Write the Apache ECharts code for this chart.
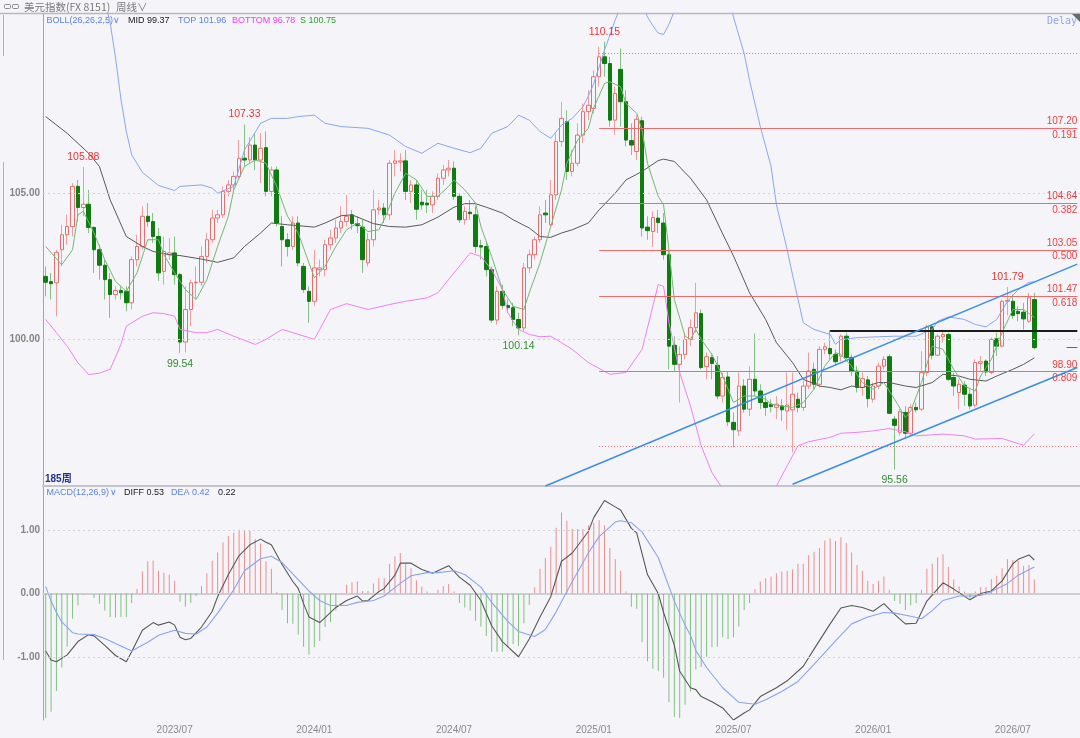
<!DOCTYPE html>
<html><head><meta charset="utf-8">
<script src="https://cdn.jsdelivr.net/npm/echarts@6/dist/echarts.min.js"></script>
<style>html,body{margin:0;padding:0;background:#f5f5f9;} #c{width:1080px;height:738px;}</style>
</head><body><div id="c"></div>
<script>
// ---------------- data ----------------
const startDate = '2023-01-20';   // first weekly candle
const padWeeks = 8;               // empty weeks right of the last candle

const opens = [
102.15,101.97,101.93,103.06,103.57,103.85,105.22,104.50,104.61,103.82,
103.06,102.53,102.04,101.53,101.67,101.64,101.25,102.72,103.17,104.20,
104.02,103.51,102.32,102.89,102.95,102.21,99.91,101.02,101.93,101.95,
102.83,103.40,104.14,104.25,105.05,105.27,105.56,106.18,106.12,106.63,
106.12,106.54,105.05,105.78,103.85,103.40,103.17,103.97,102.49,101.64,
101.30,102.38,102.38,103.23,103.46,103.80,104.02,104.25,103.95,103.83,
102.61,103.40,104.42,104.48,104.25,106.01,106.05,106.09,105.05,105.27,
104.68,104.65,104.59,104.88,105.50,105.78,105.84,104.88,104.08,104.34,
104.25,103.20,103.17,102.38,100.66,101.64,101.16,101.08,100.68,100.39,
102.44,102.89,103.40,104.31,103.91,104.93,106.75,107.43,105.73,106.01,
106.97,107.77,107.88,108.96,109.64,109.41,107.48,109.21,108.11,106.78,
106.41,107.46,103.83,103.68,104.14,103.97,102.89,99.80,99.15,99.49,
100.00,100.40,100.88,99.07,99.38,99.12,98.07,98.72,97.17,96.88,
98.41,97.62,98.64,98.24,97.85,97.79,97.68,97.73,97.56,97.60,
97.96,97.68,98.41,98.98,98.47,99.66,99.69,99.49,99.43,100.11,
99.38,98.92,98.36,98.62,97.96,98.41,99.09,99.41,97.28,96.83,
97.51,96.80,97.68,97.62,98.87,100.43,99.46,100.09,100.17,98.70,
98.19,98.44,98.13,97.76,99.18,99.26,98.87,100.02,99.77,101.30,
101.30,100.96,100.93,100.62,101.36];
const closes = [
101.95,101.90,102.97,103.57,103.85,105.22,104.50,104.61,103.82,103.06,
102.53,102.04,101.53,101.67,101.59,101.25,102.72,103.17,104.20,104.02,
103.51,102.27,103.00,102.95,102.21,99.91,101.02,101.93,101.95,102.83,
103.40,104.14,104.25,105.05,105.27,105.56,106.18,106.12,106.63,106.12,
106.52,105.05,105.78,103.97,103.40,103.17,103.97,102.61,101.70,101.30,
102.44,102.44,103.23,103.46,103.80,104.02,104.20,103.95,103.88,102.72,
103.40,104.42,104.48,104.25,106.01,106.09,106.09,105.05,105.27,104.44,
104.59,104.59,104.88,105.50,105.78,105.84,104.88,104.08,104.37,104.29,
103.17,103.15,102.38,100.66,101.64,101.16,101.08,100.68,100.39,102.44,
102.89,103.40,104.25,104.25,104.93,106.75,107.54,105.73,106.01,106.97,
107.77,107.99,108.96,109.64,109.41,107.48,108.39,108.11,106.80,106.63,
107.51,103.80,103.71,104.16,103.99,102.89,99.77,99.15,99.49,100.00,
100.40,100.91,99.04,99.41,99.18,98.07,98.70,97.19,96.92,98.41,
97.62,98.64,98.24,97.85,97.68,97.71,97.79,97.60,97.76,98.13,
97.68,98.41,98.92,98.47,99.66,99.75,99.51,99.24,100.11,99.38,
98.92,98.36,98.66,97.98,98.41,99.09,99.32,97.48,97.07,97.53,
96.80,97.68,97.60,98.87,100.43,99.46,100.11,100.17,98.64,98.41,
98.47,98.13,97.73,99.21,99.24,98.89,100.00,99.77,101.30,101.33,
100.82,100.88,100.70,101.42,99.72];
const highs = [
102.49,102.27,103.06,103.91,104.25,105.33,105.44,105.88,105.10,103.85,
103.23,102.72,102.27,101.81,101.81,101.81,102.83,103.57,104.54,104.65,
104.31,103.80,103.51,103.46,103.51,102.27,101.81,102.04,102.49,103.17,
103.63,104.42,104.42,105.22,105.44,105.73,106.80,107.33,106.90,107.03,
107.03,107.09,105.90,105.90,104.20,103.63,104.20,104.20,102.61,101.81,
103.06,102.72,103.40,103.74,104.08,104.54,104.93,104.42,104.20,104.08,
103.63,105.10,104.76,104.65,106.12,106.46,106.35,106.46,105.44,105.44,
105.10,105.10,105.05,105.67,105.95,106.12,106.07,104.99,104.54,104.76,
104.54,103.40,103.29,102.49,101.81,101.87,101.36,101.25,100.91,102.61,
103.06,103.51,104.54,104.76,105.44,107.03,108.10,107.82,106.46,107.37,
108.05,108.50,109.18,109.98,110.15,109.64,108.62,109.92,108.50,107.37,
107.65,107.60,104.20,104.37,104.42,104.31,103.06,100.11,99.77,100.23,
100.68,101.93,101.02,99.55,99.49,99.43,98.87,98.92,97.51,98.87,
98.64,99.09,100.20,98.47,98.07,97.96,98.07,97.96,98.87,98.87,
98.19,98.60,99.55,99.21,99.77,99.89,100.32,99.66,100.17,100.23,
99.49,99.09,98.87,98.75,98.53,99.21,99.43,99.49,97.39,97.62,
97.73,97.79,97.85,99.60,100.51,100.51,100.17,100.34,100.23,98.87,
98.64,98.58,98.30,99.32,99.43,99.32,100.06,100.23,101.36,101.79,
101.53,101.13,101.25,101.59,101.59];
const lows = [
101.47,101.36,100.79,102.49,103.23,103.51,104.02,104.20,103.63,102.27,
102.04,101.36,100.74,101.36,101.36,100.96,101.02,102.49,103.06,103.85,
103.29,102.00,101.87,102.72,101.87,99.54,99.55,100.45,101.36,101.81,
102.61,103.29,103.97,104.14,104.88,105.10,105.44,105.90,106.01,105.78,
105.33,104.88,104.88,103.85,102.49,102.83,103.06,102.49,101.59,100.57,
101.13,102.15,102.15,103.06,103.29,103.63,103.85,103.74,103.63,102.27,
102.49,103.17,104.25,103.97,104.08,105.56,105.73,104.76,104.65,104.08,
104.42,104.31,104.31,104.76,105.27,105.56,104.76,103.97,103.91,104.08,
102.95,102.72,102.15,100.57,100.51,101.02,100.91,100.45,100.14,100.28,
102.27,102.72,103.29,103.97,103.85,104.76,106.58,105.44,105.56,105.90,
106.69,107.48,107.71,108.62,108.96,107.26,106.97,107.26,106.58,106.29,
106.12,103.51,103.40,103.15,103.63,102.72,98.98,98.92,97.85,99.32,
99.77,100.23,98.98,98.64,98.64,97.96,97.85,97.05,96.32,96.71,
97.51,97.39,98.07,97.62,97.39,97.51,97.28,97.22,96.92,96.15,
97.51,97.56,98.30,98.30,98.36,99.49,99.32,99.09,99.26,99.32,
98.75,98.19,98.07,97.68,97.85,98.30,98.98,97.45,95.56,96.71,
96.60,96.71,97.51,97.56,98.75,99.32,99.43,99.89,98.58,98.07,
97.62,97.73,97.62,97.68,98.92,98.75,98.81,99.43,99.72,100.82,
100.70,100.62,100.34,100.57,99.66];

// BOLL lines and the short average S, read as [candle index, value]
const bollMid = [[0,107.60],[4,107.03],[8,106.35],[10,105.90],[12,104.76],[15,103.51],[18,103.17],[20,103.00],[23,102.89],[25,102.86],[29,102.74],[32,102.63],[35,102.78],[37,103.17],[40,103.63],[42,103.97],[45,103.91],[47,103.88],[50,103.83],[52,103.97],[55,104.22],[57,104.25],[61,103.95],[64,103.85],[67,103.83],[70,103.91],[73,104.17],[76,104.51],[78,104.63],[80,104.63],[82,104.51],[85,104.31],[87,104.08],[90,103.80],[92,103.51],[94,103.48],[96,103.63],[98,103.74],[101,103.97],[103,104.42],[106,104.99],[108,105.44],[111,105.73],[114,106.10],[115,106.15],[117,106.07],[120,105.50],[123,104.76],[126,103.60],[128,102.85],[131,101.59],[134,100.68],[136,99.89],[139,99.21],[141,98.64],[144,98.41],[146,98.36],[148,98.28],[150,98.41],[152,98.36],[155,98.53],[157,98.53],[160,98.41],[162,98.36],[165,98.53],[167,98.81],[170,98.75],[172,98.64],[175,98.58],[177,98.75],[180,98.98],[182,99.15],[184,99.37]];
const bollTop = [[0,115.0],[6,113.8],[10,112.3],[12,110.8],[13,109.6],[14,108.2],[15,107.1],[16,106.3],[18,105.70],[21,105.25],[24,105.08],[25,105.22],[29,105.27],[31,105.16],[32,104.99],[35,105.22],[37,106.46],[40,107.37],[42,107.54],[45,107.54],[47,107.60],[50,107.65],[52,107.37],[55,107.26],[60,107.20],[64,106.97],[67,106.58],[70,106.35],[73,106.69],[76,106.52],[79,106.37],[81,106.52],[83,107.03],[86,107.26],[88,107.65],[90,107.48],[92,107.09],[94,106.86],[96,107.31],[98,107.54],[100,107.94],[101,108.30],[102,108.73],[104,109.86],[106,110.90],[108,111.80],[110,111.90],[112,111.00],[113,110.70],[114,110.45],[115,110.40],[116,110.75],[117,111.20],[120,112.50],[124,112.80],[127,111.80],[128,111.00],[130,109.75],[131,108.84],[133,107.26],[135,105.90],[136,104.60],[138,103.06],[139,102.20],[141,100.57],[143,100.34],[146,100.17],[147,99.83],[148,100.00],[151,100.06],[155,100.09],[158,100.11],[162,100.11],[165,100.34],[166,100.62],[168,100.77],[171,100.68],[173,100.51],[175,100.43],[177,100.68],[179,101.30],[181,101.70],[183,101.95],[184,101.96]];
const bollBottom = [[0,100.68],[2,100.23],[4,99.77],[6,99.20],[8,98.80],[10,98.85],[12,98.98],[13,99.40],[14,99.83],[15,100.45],[18,100.79],[20,100.91],[22,100.88],[24,100.79],[25,100.34],[28,100.23],[30,100.23],[32,100.34],[35,100.11],[39,99.83],[41,100.00],[44,100.34],[46,100.23],[49,100.06],[50,100.00],[51,100.34],[53,101.02],[56,101.22],[60,101.02],[64,101.19],[67,101.30],[71,101.42],[73,101.59],[76,102.27],[79,102.95],[81,102.83],[83,102.38],[85,101.70],[86,100.91],[88,100.34],[90,100.17],[92,100.09],[94,100.11],[96,99.89],[98,99.66],[101,99.21],[105,98.81],[108,98.87],[111,99.66],[113,101.13],[114,101.87],[115,101.81],[116,100.57],[118,98.87],[120,97.73],[122,96.37],[124,95.46],[126,94.90],[129,94.40],[132,94.30],[135,94.80],[136,95.00],[138,95.69],[140,96.37],[142,96.51],[146,96.66],[148,96.80],[151,96.83],[154,96.88],[157,96.96],[160,96.85],[162,96.71],[167,96.77],[171,96.71],[173,96.60],[178,96.62],[182,96.39],[184,96.78]];
const sLine = [[0,103.17],[3,102.55],[5,103.06],[6,104.25],[7,104.37],[9,103.63],[11,102.72],[13,101.98],[15,101.64],[17,102.27],[19,103.40],[21,103.40],[22,102.89],[24,102.27],[26,101.70],[28,101.36],[30,102.04],[32,103.17],[34,104.20],[35,105.10],[37,105.90],[39,106.12],[41,106.01],[43,105.22],[45,104.20],[47,103.63],[49,102.61],[50,102.10],[52,102.49],[54,103.17],[56,103.74],[58,103.97],[60,103.68],[62,103.74],[63,104.08],[65,104.99],[67,105.67],[69,105.44],[71,104.88],[73,104.88],[75,105.22],[76,105.44],[78,105.10],[80,104.65],[81,103.85],[83,102.83],[85,101.70],[87,101.13],[89,101.02],[90,101.59],[92,102.61],[94,103.85],[96,105.10],[97,106.01],[99,106.80],[101,107.20],[102,107.90],[104,108.73],[105,108.79],[107,108.62],[108,108.05],[110,107.71],[111,107.14],[112,106.01],[114,104.88],[115,104.59],[116,103.06],[117,101.36],[119,100.11],[120,100.00],[121,100.34],[122,100.00],[124,99.49],[126,98.75],[128,97.85],[130,98.07],[132,98.07],[134,97.96],[135,97.79],[137,97.73],[139,97.68],[141,97.85],[143,98.30],[145,99.09],[147,99.55],[148,99.49],[150,99.09],[152,98.53],[154,98.30],[156,98.53],[158,97.96],[160,97.34],[161,97.56],[163,98.53],[165,99.77],[167,99.66],[169,98.98],[171,98.41],[173,98.24],[174,98.75],[176,99.32],[178,100.23],[180,101.02],[182,101.02],[184,100.75]];

// MACD(12,26,9)
const macdHist = [
-1.97,-1.87,-1.54,-1.17,-0.84,-0.40,-0.19,-0.02,0.00,-0.07,
-0.16,-0.27,-0.37,-0.38,-0.37,-0.37,-0.15,0.07,0.35,0.51,
0.52,0.36,0.33,0.30,0.20,-0.13,-0.21,-0.15,-0.04,0.12,
0.32,0.52,0.65,0.81,0.91,0.96,1.01,1.00,0.99,0.86,
0.79,0.51,0.39,0.02,-0.26,-0.47,-0.48,-0.65,-0.84,-0.97,
-0.85,-0.75,-0.53,-0.45,-0.27,0.01,0.14,0.18,0.19,0.04,
0.04,0.16,0.24,0.24,0.47,0.59,0.64,0.47,0.40,0.21,
0.11,0.03,0.01,0.06,0.12,0.15,0.03,-0.15,-0.22,-0.27,
-0.43,-0.52,-0.67,-0.92,-0.92,-0.92,-0.85,-0.80,-0.83,-0.47,
-0.18,0.10,0.39,0.56,0.74,1.04,1.28,1.15,1.02,1.02,
1.02,1.08,1.12,1.16,1.08,0.72,0.54,0.36,0.03,-0.21,
-0.24,-0.77,-1.07,-1.19,-1.22,-1.33,-1.72,-1.95,-1.97,-1.76,
-1.55,-1.20,-1.16,-1.00,-0.85,-0.84,-0.69,-0.72,-0.69,-0.52,
-0.26,-0.15,0.07,0.19,0.24,0.27,0.32,0.35,0.36,0.38,
0.47,0.47,0.61,0.66,0.72,0.84,0.87,0.83,0.89,0.80,
0.65,0.45,0.36,0.20,0.15,0.20,0.27,0.06,-0.12,-0.16,
-0.26,-0.19,-0.15,0.06,0.39,0.47,0.57,0.62,0.42,0.22,
0.11,0.03,-0.08,0.03,0.10,0.10,0.23,0.28,0.40,0.54,
0.53,0.52,0.44,0.45,0.22];
const diffPts = [[0,-0.91],[1,-1.05],[2,-1.08],[4,-0.97],[6,-0.76],[8,-0.65],[9,-0.67],[11,-0.82],[13,-0.98],[15,-1.08],[16,-0.92],[18,-0.58],[20,-0.46],[21,-0.50],[23,-0.45],[24,-0.50],[25,-0.69],[26,-0.73],[27,-0.71],[29,-0.53],[31,-0.28],[32,-0.05],[34,0.30],[36,0.60],[38,0.77],[40,0.86],[41,0.81],[42,0.77],[44,0.46],[46,0.19],[47,0.08],[48,-0.16],[49,-0.37],[51,-0.46],[52,-0.38],[54,-0.22],[56,-0.11],[58,-0.04],[59,-0.12],[60,-0.11],[62,0.03],[63,0.08],[65,0.29],[66,0.48],[68,0.48],[70,0.38],[72,0.32],[75,0.44],[77,0.26],[79,0.13],[81,-0.11],[83,-0.51],[85,-0.76],[88,-1.00],[90,-0.72],[92,-0.37],[94,-0.05],[96,0.51],[98,0.64],[101,0.98],[102,1.20],[104,1.47],[106,1.37],[107,1.32],[109,1.03],[110,0.96],[112,0.30],[114,0.00],[115,-0.30],[117,-0.82],[118,-1.23],[120,-1.49],[121,-1.52],[122,-1.63],[124,-1.71],[126,-1.81],[128,-2.00],[130,-1.89],[131,-1.84],[133,-1.63],[136,-1.49],[138,-1.38],[141,-1.15],[143,-0.88],[146,-0.48],[148,-0.23],[150,-0.19],[152,-0.22],[154,-0.28],[156,-0.16],[158,-0.33],[160,-0.48],[162,-0.47],[164,-0.12],[167,0.17],[169,0.07],[172,-0.10],[174,0.00],[176,0.04],[177,0.12],[178,0.20],[180,0.47],[181,0.54],[183,0.61],[184,0.53]];
const deaPts = [[0,0.11],[1,-0.12],[2,-0.30],[3,-0.45],[5,-0.62],[6,-0.64],[9,-0.65],[11,-0.71],[14,-0.83],[16,-0.91],[19,-0.77],[21,-0.66],[24,-0.58],[26,-0.63],[28,-0.64],[30,-0.53],[32,-0.31],[35,0.06],[37,0.36],[40,0.55],[42,0.59],[44,0.49],[47,0.22],[49,0.04],[51,-0.11],[53,-0.19],[56,-0.19],[58,-0.14],[61,-0.11],[63,-0.04],[66,0.16],[68,0.28],[71,0.33],[73,0.33],[76,0.36],[78,0.30],[81,0.10],[83,-0.14],[86,-0.44],[88,-0.60],[91,-0.68],[93,-0.57],[95,-0.29],[98,0.19],[101,0.64],[103,0.90],[106,1.13],[107,1.15],[109,1.12],[111,0.97],[114,0.57],[117,-0.12],[119,-0.50],[120,-0.66],[121,-0.90],[123,-1.17],[126,-1.49],[129,-1.72],[132,-1.75],[134,-1.68],[137,-1.55],[140,-1.39],[143,-1.12],[147,-0.75],[150,-0.48],[153,-0.37],[156,-0.30],[158,-0.31],[161,-0.36],[163,-0.40],[165,-0.27],[167,-0.11],[170,-0.04],[172,-0.04],[174,-0.03],[176,0.03],[179,0.16],[181,0.29],[184,0.42]];

const tickLabels = ['2023/07','2024/01','2024/07','2025/01','2025/07','2026/01','2026/07'];
const fibStart = 103;
const fibLevels = [107.20, 104.64, 103.05, 101.47, 98.90];
const fibRatios = ['0.191', '0.382', '0.500', '0.618', '0.809'];
const fibBounds = [109.77, 96.34];
const resistance = {from: 146, value: 100.31};
const lastMark = {from: 190, value: 99.72};
const channelUpper = [[93, 95.00], [192, 102.57]];
const channelLower = [[139, 95.06], [192, 99.04]];
const extremes = [
  {i: 7, v: 105.88, up: true}, {i: 37, v: 107.33, up: true}, {i: 104, v: 110.15, up: true},
  {i: 179, v: 101.79, up: true}, {i: 25, v: 99.54, up: false}, {i: 88, v: 100.14, up: false},
  {i: 158, v: 95.56, up: false}];

// ---------------- build ----------------
const BG = '#f5f5f9';
const N = opens.length;
const dates = [];
const d0 = new Date(startDate + 'T00:00:00Z');
for (let k = 0; k < N + padWeeks; k++) {
  dates.push(new Date(d0.getTime() + k * 7 * 86400000).toISOString().slice(0, 10));
}
const lastIdx = dates.length - 1;
const fmtMonth = s => s.slice(0, 4) + '/' + s.slice(5, 7);
const labelIdx = new Set();
tickLabels.forEach(t => { const k = dates.findIndex(d => fmtMonth(d) === t); if (k >= 0) labelIdx.add(k); });

const wickData = opens.map((o, k) => [o, closes[k], lows[k], highs[k]]);
const bodyData = opens.map((o, k) => [o, closes[k], Math.min(o, closes[k]), Math.max(o, closes[k])]);

const FIB = '#f36a6a';
const font = 'Arial, "Liberation Sans", sans-serif';
const fibLines = [];
fibLevels.forEach((v, k) => {
  fibLines.push([
    {coord: [dates[fibStart], v], lineStyle: {color: FIB, width: 1, type: 'solid'},
     label: {show: true, position: 'insideEnd', distance: 0,
             formatter: '{a|' + v.toFixed(2) + '}\n{a|' + fibRatios[k] + '}',
             rich: {a: {color: '#f03c3c', fontSize: 10, fontFamily: font, lineHeight: 13.4, align: 'right'}}}},
    {coord: [dates[lastIdx], v]}]);
});
fibBounds.forEach(v => {
  fibLines.push([{coord: [dates[fibStart], v], lineStyle: {color: FIB, width: 1, type: [1, 2]}, label: {show: false}},
                 {coord: [dates[lastIdx], v]}]);
});
fibLines.push([{coord: [dates[resistance.from], resistance.value], lineStyle: {color: '#1c1c1c', width: 2, type: 'solid'}, label: {show: false}},
               {coord: [dates[lastIdx], resistance.value]}]);
fibLines.push([{coord: [dates[lastMark.from], lastMark.value], lineStyle: {color: '#666', width: 1, type: 'solid'}, label: {show: false}},
               {coord: [dates[lastIdx], lastMark.value]}]);
[channelUpper, channelLower].forEach(c => {
  fibLines.push([{coord: [dates[c[0][0]], c[0][1]], lineStyle: {color: '#3a8ee8', width: 1.5, type: 'solid'}, label: {show: false}},
                 {coord: [dates[c[1][0]], c[1][1]]}]);
});

const gridDots = {color: '#d2d2d8', width: 1, type: [2, 3]};

function txt(x, y, text, fill, size, extra) {
  return {type: 'text', x: x, y: y, silent: true,
    style: {text: text, fill: fill, font: (extra && extra.weight ? extra.weight + ' ' : '') + size + 'px ' + ((extra && extra.family) || font), verticalAlign: 'middle'}};
}

const option = {
  animation: false,
  backgroundColor: BG,
  grid: [
    {left: 43, right: 0, top: 14, height: 472},
    {left: 43, right: 0, top: 486, height: 234}
  ],
  xAxis: [
    {type: 'category', gridIndex: 0, data: dates, boundaryGap: true,
     axisLine: {show: true, lineStyle: {color: '#c4c4ca', width: 2}}, axisTick: {show: false}, axisLabel: {show: false}, splitLine: {show: false}},
    {type: 'category', gridIndex: 1, data: dates, boundaryGap: true,
     axisLine: {show: true, lineStyle: {color: '#cdcdd3', width: 2}}, axisTick: {show: false},
     axisLabel: {interval: idx => labelIdx.has(idx), formatter: v => fmtMonth(v), color: '#8a8a8a', fontSize: 10, fontFamily: font, margin: 5},
     splitLine: {show: false}}
  ],
  yAxis: [
    {type: 'value', gridIndex: 0, min: 95, max: 111.1, interval: 5, scale: true,
     axisLine: {show: true, lineStyle: {color: '#a6a6a6'}}, axisTick: {show: false}, splitLine: {show: false},
     axisLabel: {formatter: v => (v === 100 || v === 105) ? v.toFixed(2) : '', color: '#858585', fontSize: 10, fontWeight: 'bold', fontFamily: font, margin: 3}},
    {type: 'value', gridIndex: 1, min: -2, max: 1.7, interval: 1,
     axisLine: {show: true, lineStyle: {color: '#a6a6a6'}}, axisTick: {show: false}, splitLine: {show: false},
     axisLabel: {formatter: v => (Number.isInteger(v) && v > -2) ? v.toFixed(2) : '', color: '#858585', fontSize: 10, fontWeight: 'bold', fontFamily: font, margin: 3}}
  ],
  series: [
    {name: 'grid', type: 'line', xAxisIndex: 0, yAxisIndex: 0, data: [], z: 1, silent: true,
     markLine: {silent: true, symbol: ['none', 'none'], label: {show: false}, lineStyle: gridDots, data: [{yAxis: 100}, {yAxis: 105}]}},
    {name: 'grid2', type: 'line', xAxisIndex: 1, yAxisIndex: 1, data: [], z: 1, silent: true,
     markLine: {silent: true, symbol: ['none', 'none'], label: {show: false}, lineStyle: gridDots, data: [{yAxis: 1}, {yAxis: 0}, {yAxis: -1}]}},
    {name: 'wick', type: 'candlestick', xAxisIndex: 0, yAxisIndex: 0, data: wickData, barWidth: 1, z: 2, silent: true,
     itemStyle: {color: '#f39c9c', color0: '#82c282', borderColor: '#f39c9c', borderColor0: '#82c282', borderWidth: 1}},
    {name: 'body', type: 'candlestick', xAxisIndex: 0, yAxisIndex: 0, data: bodyData, barWidth: 4, z: 3, silent: true,
     itemStyle: {color: BG, color0: '#0e7c0e', borderColor: '#f06c6c', borderColor0: '#0e7c0e', borderWidth: 1},
     markPoint: {silent: true, symbol: 'circle', symbolSize: 1, itemStyle: {color: 'rgba(0,0,0,0)'},
       data: extremes.map(p => ({coord: [dates[p.i], p.v],
         label: {show: true, formatter: p.v.toFixed(2), position: p.up ? 'top' : 'bottom', distance: p.up ? 4 : 5,
                 color: p.up ? '#f03232' : '#2f8f2f', fontSize: 10.5, fontFamily: font}}))},
     markLine: {silent: true, symbol: ['none', 'none'], data: fibLines}},
    {name: 'MID', type: 'line', xAxisIndex: 0, yAxisIndex: 0, data: bollMid, showSymbol: false, z: 4, silent: true, lineStyle: {color: '#5a5a5a', width: 1}},
    {name: 'TOP', type: 'line', xAxisIndex: 0, yAxisIndex: 0, data: bollTop, showSymbol: false, z: 4, silent: true, lineStyle: {color: '#8aa5f0', width: 1}},
    {name: 'BOTTOM', type: 'line', xAxisIndex: 0, yAxisIndex: 0, data: bollBottom, showSymbol: false, z: 4, silent: true, lineStyle: {color: '#f080f0', width: 1}},
    {name: 'S', type: 'line', xAxisIndex: 0, yAxisIndex: 0, data: sLine, showSymbol: false, z: 4, silent: true, lineStyle: {color: '#74b674', width: 1}},
    {name: 'MACD', type: 'bar', xAxisIndex: 1, yAxisIndex: 1, data: macdHist, barWidth: 1, z: 2, silent: true,
     itemStyle: {color: p => p.value >= 0 ? '#f08c8c' : '#7fc27f'}},
    {name: 'DIFF', type: 'line', xAxisIndex: 1, yAxisIndex: 1, data: diffPts, showSymbol: false, z: 4, silent: true, lineStyle: {color: '#585858', width: 1.1}},
    {name: 'DEA', type: 'line', xAxisIndex: 1, yAxisIndex: 1, data: deaPts, showSymbol: false, z: 4, silent: true, lineStyle: {color: '#88a4ee', width: 1.1}}
  ],
  graphic: [
    {type: 'line', silent: true, shape: {x1: 0, y1: 13.5, x2: 1080, y2: 13.5}, style: {stroke: '#b8b8be', lineWidth: 1.5}},
    {type: 'polygon', silent: true, shape: {points: [[1072, 14], [1080, 14], [1080, 22]]}, style: {fill: '#6a6a6a'}},
    {type: 'line', silent: true, shape: {x1: 3.5, y1: 15, x2: 3.5, y2: 56}, style: {stroke: '#b4b4b4', lineWidth: 1}},
    {type: 'line', silent: true, shape: {x1: 3.5, y1: 162, x2: 3.5, y2: 660}, style: {stroke: '#b4b4b4', lineWidth: 1}},
    {type: 'rect', silent: true, shape: {x: 4.5, y: 4.5, width: 6, height: 4, r: 1}, style: {stroke: '#8a8a8a', fill: 'none', lineWidth: 1}},
    {type: 'rect', silent: true, shape: {x: 12.5, y: 4.5, width: 6, height: 4, r: 1}, style: {stroke: '#8a8a8a', fill: 'none', lineWidth: 1}},
    txt(24, 7, '美元指数(FX 8151)', '#7a7a7a', 10.5, {family: '"Noto Sans CJK SC", sans-serif'}),
    txt(116, 7, '周线∨', '#7a7a7a', 10.5, {family: '"Noto Sans CJK SC", sans-serif'}),
    txt(46.5, 20.5, 'BOLL(26,26,2,5)', '#5a7fe6', 9),
    txt(113, 20.5, '∨', '#5a7fe6', 9),
    txt(128, 20.5, 'MID 99.37', '#222222', 9),
    txt(178, 20.5, 'TOP 101.96', '#5a7fe6', 9),
    txt(232, 20.5, 'BOTTOM 96.78', '#f03cf0', 9),
    txt(300, 20.5, 'S 100.75', '#2f9a2f', 9),
    txt(1047, 21, 'Delay', '#8fa5e8', 10, {family: '"DejaVu Sans Mono", monospace'}),
    txt(45, 479, '185周', '#24308c', 10, {weight: 'bold', family: 'Arial, "Noto Sans CJK SC", sans-serif'}),
    txt(46.5, 492.5, 'MACD(12,26,9)', '#5a7fe6', 9),
    txt(110, 492.5, '∨', '#5a7fe6', 9),
    txt(124, 492.5, 'DIFF 0.53', '#222222', 9),
    txt(171, 492.5, 'DEA 0.42', '#5a7fe6', 9),
    txt(218, 492.5, '0.22', '#222222', 9)
  ]
};
const chart = echarts.init(document.getElementById('c'), null, {width: 1080, height: 738});
chart.setOption(option);
</script>
</body></html>
